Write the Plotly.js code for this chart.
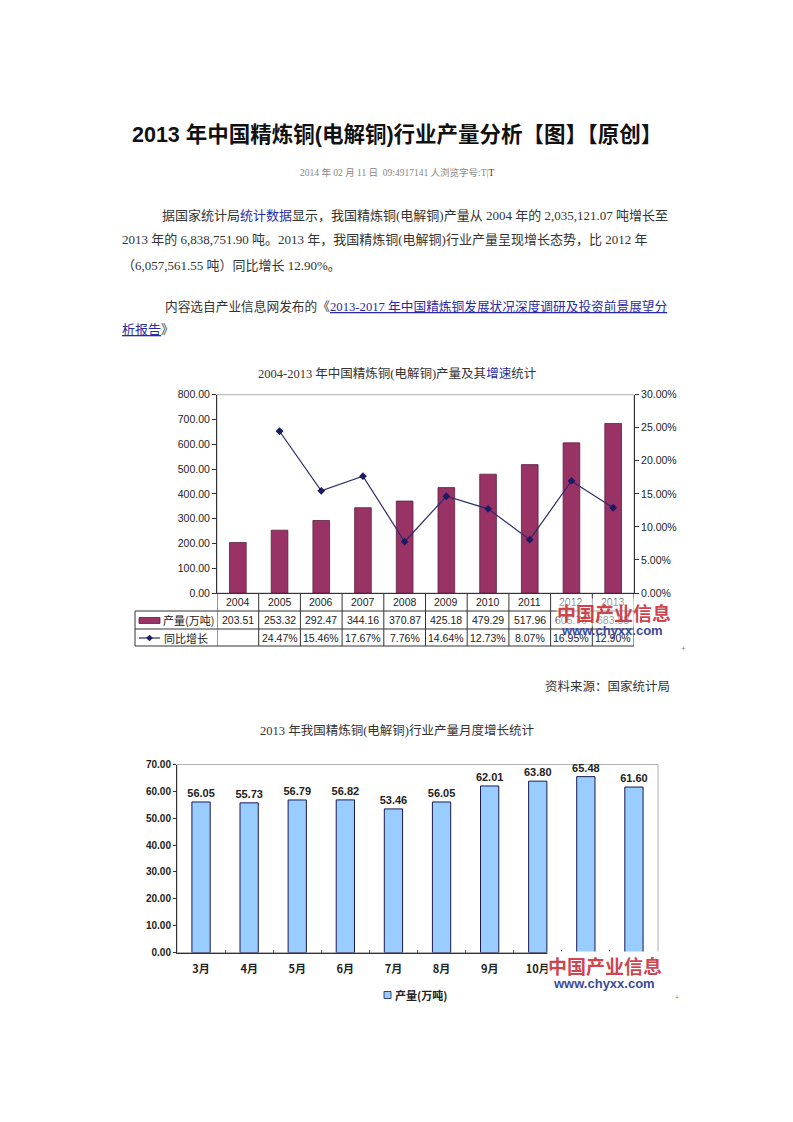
<!DOCTYPE html>
<html><head><meta charset="utf-8">
<script src="https://cdn.plot.ly/plotly-3.0.1.min.js"></script>
<style>html,body{margin:0;padding:0;background:#fff;}#page{width:793px;height:1122px;}</style>
</head><body><div id="page"></div>
<script>
// ---- data ----
const years = ['2004','2005','2006','2007','2008','2009','2010','2011','2012','2013'];
const production = [203.51,253.32,292.47,344.16,370.87,425.18,479.29,517.96,605.76,683.88];
const growthPct = [null,24.47,15.46,17.67,7.76,14.64,12.73,8.07,16.95,12.90];
const months = ['3月','4月','5月','6月','7月','8月','9月','10月','11月','12月'];
const monthProduction = [56.05,55.73,56.79,56.82,53.46,56.05,62.01,63.80,65.48,61.60];
const seriesNames = {prod:'产量(万吨)', growth:'同比增长'};

// ---- helpers (pixel -> paper) ----
const W = 793, H = 1122;
const px = x => x / W;
const py = y => 1 - y / H;

const serif = 'Liberation Serif, "Noto Sans CJK SC", serif';
const sans = 'Liberation Sans, Arial, "Noto Sans CJK SC", sans-serif';
const cjk = '"Noto Sans CJK SC", Liberation Sans, sans-serif';

// chart 1 geometry
const c1 = {l:217, r:634, t:394.7, b:593};
// chart 2 geometry
const c2 = {l:177, r:658, t:764.5, b:952.5};

const traces = [
  {type:'bar', x:years, y:production, xaxis:'x', yaxis:'y', name:seriesNames.prod, width:0.4,
   marker:{color:'#993366', line:{color:'#5c1f3d', width:0.8}}, showlegend:false, hoverinfo:'skip'},
  {type:'scatter', mode:'lines+markers', x:years, y:growthPct, xaxis:'x', yaxis:'y2', name:seriesNames.growth,
   line:{color:'#2b2b6b', width:1.2}, marker:{symbol:'diamond', size:6, color:'#1a1a66'},
   connectgaps:false, showlegend:false, hoverinfo:'skip'},
  {type:'bar', x:months, y:monthProduction, xaxis:'x2', yaxis:'y3', name:seriesNames.prod, width:0.38,
   marker:{color:'#99ccff', line:{color:'#1a1a4d', width:1}},
   texttemplate:'%{y:.2f}', textposition:'outside', cliponaxis:false, constraintext:'none',
   textfont:{family:sans, size:11, color:'#222', weight:'bold'},
   showlegend:false, hoverinfo:'skip'}
];

const annotations = [];
const shapes = [];
function txt(x, y, text, opts) {
  annotations.push(Object.assign({xref:'paper', yref:'paper', x:px(x), y:py(y), text:text,
    showarrow:false, xanchor:'left', yanchor:'middle', font:{family:serif, size:13, color:'#333'}}, opts || {}));
}

// ---- header text ----
txt(397, 135, '2013 年中国精炼铜(电解铜)行业产量分析【图】【原创】',
  {xanchor:'center', font:{family:sans, size:21.5, color:'#111', weight:'bold'}});
txt(397, 173, '2014 年 02 月 11 日  09:4917141 人浏览字号:T|<span style="color:#cc0000">T</span>',
  {xanchor:'center', font:{family:serif, size:9.5, color:'#888'}});

const link = 'color:#2a2aa8';
txt(160, 215, '据国家统计局<span style="' + link + '">统计数据</span>显示，我国精炼铜(电解铜)产量从 2004 年的 2,035,121.07 吨增长至');
txt(120, 240, '2013 年的 6,838,751.90 吨。2013 年，我国精炼铜(电解铜)行业产量呈现增长态势，比 2012 年');
txt(120, 265, '（6,057,561.55 吨）同比增长 12.90%。');
txt(163, 306, '内容选自产业信息网发布的《<span style="' + link + ';text-decoration:underline">2013-2017 年中国精炼铜发展状况深度调研及投资前景展望分</span>',
  {font:{family:serif, size:12.7, color:'#333'}});
txt(120, 329, '<span style="' + link + ';text-decoration:underline">析报告</span>》');

// ---- chart 1 title ----
txt(397, 373, '2004-2013 年中国精炼铜(电解铜)产量及其<span style="color:#2a2aa8">增速</span>统计',
  {xanchor:'center', font:{family:serif, size:12.5, color:'#333'}});

// chart 1 border (gray box)
shapes.push({type:'rect', xref:'paper', yref:'paper', x0:px(c1.l), x1:px(c1.r), y0:py(c1.b), y1:py(c1.t),
  line:{color:'#b0b0b0', width:1}, layer:'below'});

// ---- chart 1 data table ----
const tblLeft = 135;
const lineC = '#333';
[611, 629, 646].forEach(yy => {
  shapes.push({type:'line', xref:'paper', yref:'paper', x0:px(tblLeft), x1:px(c1.r), y0:py(yy), y1:py(yy), line:{color:lineC, width:1}});
});
shapes.push({type:'line', xref:'paper', yref:'paper', x0:px(tblLeft), x1:px(tblLeft), y0:py(611), y1:py(646), line:{color:lineC, width:1}});
for (let i = 0; i <= years.length; i++) {
  shapes.push({type:'line', xref:'x', yref:'paper', x0:i-0.5, x1:i-0.5, y0:py(593), y1:py(646), line:{color:lineC, width:1}});
}
// legend keys in table
shapes.push({type:'rect', xref:'paper', yref:'paper', x0:px(139), x1:px(160), y0:py(623.5), y1:py(617.5),
  fillcolor:'#993366', line:{color:'#5c1f3d', width:0.8}});
shapes.push({type:'line', xref:'paper', yref:'paper', x0:px(139), x1:px(160), y0:py(638), y1:py(638), line:{color:'#2b2b6b', width:1.2}});
shapes.push({type:'path', xref:'paper', yref:'paper',
  path:'M '+px(149.5)+' '+py(635)+' L '+px(152.5)+' '+py(638)+' L '+px(149.5)+' '+py(641)+' L '+px(146.5)+' '+py(638)+' Z',
  fillcolor:'#1a1a66', line:{color:'#1a1a66', width:0.5}});
txt(161, 620, seriesNames.prod, {font:{family:cjk, size:11, color:'#222'}});
txt(162, 637.5, seriesNames.growth, {font:{family:cjk, size:11, color:'#222'}});

const tblFont = {family:sans, size:10.5, color:'#222'};
years.forEach((yr, i) => {
  annotations.push({xref:'x', yref:'paper', x:i, y:py(602), text:yr, showarrow:false, xanchor:'center', yanchor:'middle', font:tblFont});
  annotations.push({xref:'x', yref:'paper', x:i, y:py(620), text:production[i].toFixed(2), showarrow:false, xanchor:'center', yanchor:'middle', font:tblFont});
  if (growthPct[i] !== null) {
    annotations.push({xref:'x', yref:'paper', x:i, y:py(637.5), text:growthPct[i].toFixed(2) + '%', showarrow:false, xanchor:'center', yanchor:'middle', font:tblFont});
  }
});

// watermark chart 1
txt(614, 612, '中国产业信息', {xanchor:'center', borderpad:0, font:{family:cjk, size:19, color:'rgba(200,50,60,0.92)', weight:'bold'}, bgcolor:'rgba(255,255,255,0.55)'});
txt(612, 630, 'www.chyxx.com', {xanchor:'center', font:{family:sans, size:13, color:'#3b4a9c', weight:'bold'}});
txt(683, 648, '+', {xanchor:'center', font:{family:sans, size:8, color:'#888'}});

txt(672, 686, '资料来源：国家统计局', {xanchor:'right', font:{family:serif, size:12.5, color:'#333'}});

// ---- chart 2 ----
txt(397, 730, '2013 年我国精炼铜(电解铜)行业产量月度增长统计', {xanchor:'center', font:{family:serif, size:12.5, color:'#333'}});
shapes.push({type:'rect', xref:'paper', yref:'paper', x0:px(c2.l), x1:px(c2.r), y0:py(c2.b), y1:py(c2.t),
  line:{color:'#b0b0b0', width:1}, layer:'below'});
// legend
shapes.push({type:'rect', xref:'paper', yref:'paper', x0:px(384), x1:px(391), y0:py(998.5), y1:py(991.5),
  fillcolor:'#99ccff', line:{color:'#1a1a4d', width:0.8}});
txt(393, 995, seriesNames.prod, {font:{family:cjk, size:11, color:'#222', weight:'bold'}});
// watermark chart 2
txt(605, 965, '中国产业信息', {xanchor:'center', borderpad:0, font:{family:cjk, size:19, color:'rgba(200,50,60,0.92)', weight:'bold'}, bgcolor:'#ffffff'});
txt(604, 983, 'www.chyxx.com', {xanchor:'center', font:{family:sans, size:13, color:'#3b4a9c', weight:'bold'}});
txt(677, 997, '+', {xanchor:'center', font:{family:sans, size:7, color:'#888'}});

const layout = {
  width:W, height:H, margin:{l:0, r:0, t:0, b:0},
  paper_bgcolor:'#fff', plot_bgcolor:'rgba(0,0,0,0)',
  showlegend:false,
  xaxis:{domain:[px(c1.l), px(c1.r)], anchor:'y', type:'category', range:[-0.5, years.length - 0.5], autorange:false,
    showticklabels:false, showline:true, linecolor:'#333', linewidth:1, ticks:'', showgrid:false, zeroline:false},
  yaxis:{domain:[py(c1.b), py(c1.t)], anchor:'x', range:[0,800], dtick:100, tickformat:'.2f',
    ticks:'outside', ticklen:4, tickcolor:'#333', showline:true, linecolor:'#333', linewidth:1,
    showgrid:false, zeroline:false, tickfont:{family:sans, size:10.5, color:'#222'}},
  yaxis2:{overlaying:'y', side:'right', anchor:'x', range:[0,30], dtick:5, tickformat:'.2f', ticksuffix:'%',
    ticks:'outside', ticklen:4, tickcolor:'#333', showline:true, linecolor:'#333', linewidth:1,
    showgrid:false, zeroline:false, tickfont:{family:sans, size:10.5, color:'#222'}},
  xaxis2:{domain:[px(c2.l), px(c2.r)], anchor:'y3', type:'category', range:[-0.5, months.length - 0.5], autorange:false,
    showline:true, linecolor:'#333', linewidth:1,
    ticks:'inside', tickson:'boundaries', ticklen:3, tickcolor:'#555', showgrid:false, zeroline:false,
    ticklabelstandoff:6, tickfont:{family:cjk, size:11, color:'#222', weight:'bold'}},
  yaxis3:{domain:[py(c2.b), py(c2.t)], anchor:'x2', range:[0,70], dtick:10, tickformat:'.2f',
    ticks:'outside', ticklen:3, tickcolor:'#333', showline:true, linecolor:'#333', linewidth:1,
    showgrid:false, zeroline:false, tickfont:{family:sans, size:10, color:'#222', weight:'bold'}},
  annotations:annotations, shapes:shapes
};

Plotly.newPlot('page', traces, layout, {displayModeBar:false, staticPlot:true});
</script>
</body></html>
